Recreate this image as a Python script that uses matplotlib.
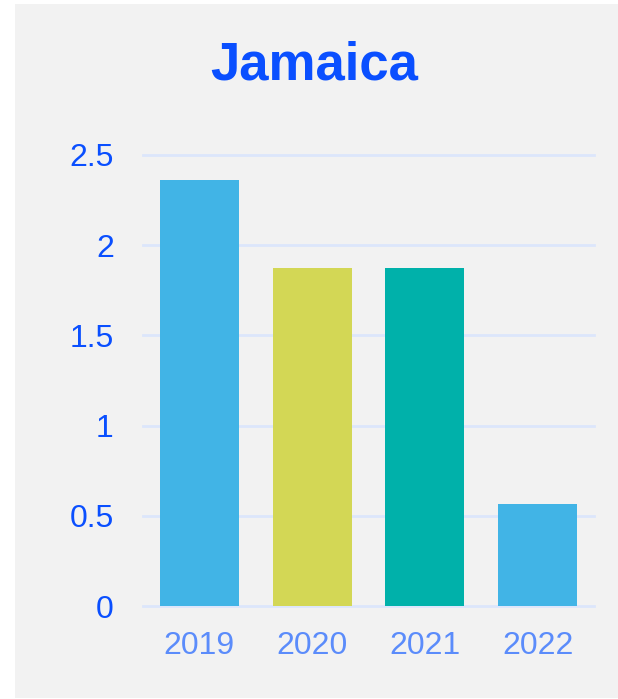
import matplotlib.pyplot as plt
from matplotlib.patches import Rectangle

# values
years = ["2019", "2020", "2021", "2022"]
values = [2.36, 1.875, 1.875, 0.565]
bar_colors = ["#41b4e6", "#d3d755", "#00b1aa", "#41b4e6"]
yticks = [0, 0.5, 1, 1.5, 2, 2.5]
ytick_labels = ["0", "0.5", "1", "1.5", "2", "2.5"]

plt.rcParams['font.family'] = ['Liberation Sans', 'DejaVu Sans']

fig = plt.figure(figsize=(6.18, 6.99), dpi=100)
fig.patch.set_facecolor("white")
# gray card behind the chart (drawn under the axes)
fig.patches.append(Rectangle((15 / 618, 1 / 699), 1 - 15 / 618, 694 / 699,
                             transform=fig.transFigure, facecolor="#f2f2f2",
                             edgecolor="none", zorder=-10))

ax = fig.add_axes([143 / 618, 1 - 606 / 699, 451 / 618, 451 / 699])
ax.set_facecolor("none")

ax.bar(range(len(years)), values, width=0.7, color=bar_colors, zorder=3)

ax.set_xlim(-0.5, len(years) - 0.5)
ax.set_ylim(0, 2.5)
ax.set_yticks(yticks)
ax.set_yticklabels(ytick_labels)
ax.set_xticks(range(len(years)))
ax.set_xticklabels(years)

ax.grid(axis="y", color="#dce6fb", linewidth=2, zorder=0)
ax.set_axisbelow(True)
for gl in ax.get_ygridlines():
    gl.set_clip_on(False)
for s in ax.spines.values():
    s.set_visible(False)

ax.tick_params(axis="y", length=0, pad=21, labelsize=23, labelcolor="#0a4fff")
ax.tick_params(axis="x", length=0, pad=18, labelsize=23, labelcolor="#5b8cfb")

fig.text(314 / 618, 1 - 80 / 699, "Jamaica", ha="center", va="baseline",
         fontsize=38, fontweight="bold", color="#0a4fff")

fig.savefig("out.png", dpi=100)
